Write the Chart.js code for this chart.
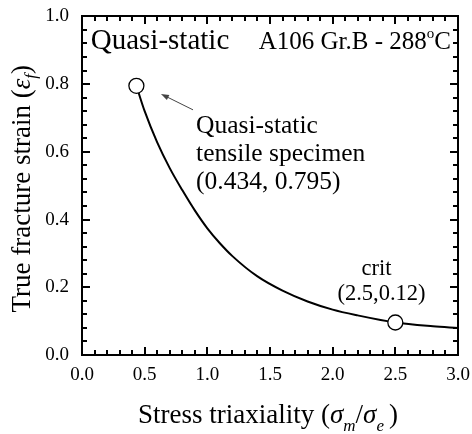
<!DOCTYPE html>
<html>
<head>
<meta charset="utf-8">
<script src="https://cdn.jsdelivr.net/npm/chart.js@4.4.1/dist/chart.umd.min.js"></script>
<style>
  html, body { margin: 0; padding: 0; background: #ffffff; }
  #wrap { width: 472px; height: 434px; }
  .fontprobe { position: absolute; left: -1000px; top: 0; font-family: "Liberation Serif"; }
</style>
</head>
<body>
<span class="fontprobe">Quasi-static 0.5 <i>&#963;&#949;</i></span>
<div id="wrap"><canvas id="chart" width="472" height="434"></canvas></div>
<script>
'use strict';
// curve
var triaxiality = [0.434, 0.5, 0.6, 0.7, 0.8, 0.9, 1.0, 1.1, 1.2, 1.4, 1.6, 1.8, 2.0, 2.2, 2.5, 2.8, 3.0];
var fractureStrain = [0.795, 0.72, 0.628, 0.552, 0.487, 0.427, 0.374, 0.33, 0.292, 0.232, 0.19, 0.158, 0.134, 0.117, 0.096, 0.085, 0.080];
// marked points (open circles)
var markX = [0.434, 2.5];
var markY = [0.795, 0.096];
// tick labels
var xTicks = [0.0, 0.5, 1.0, 1.5, 2.0, 2.5, 3.0];
var yTicks = [0.0, 0.2, 0.4, 0.6, 0.8, 1.0];

var SERIF = '"Liberation Serif", "Times New Roman", Times, "DejaVu Serif", serif';
var canvas = document.getElementById('chart');
var ctx = canvas.getContext('2d');

function toPoints(xs, ys) {
  var pts = [];
  for (var i = 0; i < xs.length; i++) {
    pts.push({x: xs[i], y: ys[i]});
  }
  return pts;
}

// draw a row of text pieces (for sub/superscripts)
function drawRuns(c, runs, x, y, align) {
  var total = 0;
  for (var i = 0; i < runs.length; i++) {
    c.font = runs[i].font;
    total += c.measureText(runs[i].t).width + (runs[i].gap || 0);
  }
  var cx = x;
  if (align === 'center') cx = x - total / 2;
  if (align === 'right') cx = x - total;
  c.textBaseline = 'alphabetic';
  c.textAlign = 'left';
  for (var j = 0; j < runs.length; j++) {
    c.font = runs[j].font;
    c.fillText(runs[j].t, cx, y + (runs[j].dy || 0));
    cx += c.measureText(runs[j].t).width + (runs[j].gap || 0);
  }
}

var framePlugin = {
  id: 'frame',
  afterDraw: function(chart) {
    var c = chart.ctx;
    var a = chart.chartArea;
    var xs = chart.scales.x;
    var ys = chart.scales.y;
    var L = Math.round(a.left), R = Math.round(a.right);
    var T = Math.round(a.top), B = Math.round(a.bottom);
    c.save();
    c.fillStyle = '#000';

    // inward ticks on all four sides, minor x every 0.1, minor y every 0.04
    var v, px, len;
    for (var i = 0; i <= 30; i++) {
      v = i / 10;
      px = Math.round(xs.getPixelForValue(v));
      len = (i % 5 === 0) ? 8 : 5;
      c.fillRect(px - 1, B - len, 2, len);
      c.fillRect(px - 1, T, 2, len);
    }
    for (var k = 0; k <= 25; k++) {
      v = k * 0.04;
      px = Math.round(ys.getPixelForValue(v));
      len = (k % 5 === 0) ? 8 : 5;
      c.fillRect(L, px - 1, len, 2);
      c.fillRect(R - len, px - 1, len, 2);
    }

    // frame
    c.strokeStyle = '#000';
    c.lineWidth = 2;
    c.strokeRect(L, T, R - L, B - T);

    // arrow pointing at the quasi-static specimen
    var tipX = xs.getPixelForValue(0.63), tipY = ys.getPixelForValue(0.771);
    var tailX = xs.getPixelForValue(0.886), tailY = ys.getPixelForValue(0.724);
    var ang = Math.atan2(tipY - tailY, tipX - tailX);
    c.strokeStyle = '#444';
    c.fillStyle = '#444';
    c.lineWidth = 1;
    c.beginPath();
    c.moveTo(tailX, tailY);
    c.lineTo(tipX - 5 * Math.cos(ang), tipY - 5 * Math.sin(ang));
    c.stroke();
    c.beginPath();
    c.moveTo(tipX, tipY);
    c.lineTo(tipX - 8 * Math.cos(ang) + 2.8 * Math.sin(ang), tipY - 8 * Math.sin(ang) - 2.8 * Math.cos(ang));
    c.lineTo(tipX - 8 * Math.cos(ang) - 2.8 * Math.sin(ang), tipY - 8 * Math.sin(ang) + 2.8 * Math.cos(ang));
    c.closePath();
    c.fill();

    c.fillStyle = '#000';
    // in-plot texts
    drawRuns(c, [{t: 'Quasi-static', font: '29px ' + SERIF}], xs.getPixelForValue(0.07), ys.getPixelForValue(0.903), 'left');
    drawRuns(c, [
      {t: 'A106 Gr.B - 288', font: '25px ' + SERIF},
      {t: 'o', font: '15px ' + SERIF, dy: -11},
      {t: 'C', font: '25px ' + SERIF}
    ], xs.getPixelForValue(1.41), ys.getPixelForValue(0.903), 'left');

    var note = '25.5px ' + SERIF;
    var nx = xs.getPixelForValue(0.91);
    drawRuns(c, [{t: 'Quasi-static', font: note}], nx, ys.getPixelForValue(0.655), 'left');
    drawRuns(c, [{t: 'tensile specimen', font: note}], nx, ys.getPixelForValue(0.572), 'left');
    drawRuns(c, [{t: '(0.434, 0.795)', font: note}], nx, ys.getPixelForValue(0.49), 'left');

    drawRuns(c, [{t: 'crit', font: '22.5px ' + SERIF}], xs.getPixelForValue(2.35), ys.getPixelForValue(0.235), 'center');
    drawRuns(c, [{t: '(2.5,0.12)', font: '22.5px ' + SERIF}], xs.getPixelForValue(2.39), ys.getPixelForValue(0.161), 'center');

    // axis titles
    var tf = '27px ' + SERIF;
    var ti = 'italic 27px ' + SERIF;
    var si = 'italic 17px ' + SERIF;
    drawRuns(c, [
      {t: 'Stress triaxiality (', font: tf},
      {t: '\u03C3', font: ti},
      {t: 'm', font: si, dy: 8},
      {t: '/', font: tf},
      {t: '\u03C3', font: ti},
      {t: 'e', font: si, dy: 8, gap: 5},
      {t: ')', font: tf}
    ], (a.left + a.right) / 2 - 2, 423, 'center');

    c.translate(30, (a.top + a.bottom) / 2 + 3);
    c.rotate(-Math.PI / 2);
    drawRuns(c, [
      {t: 'True fracture strain (', font: tf},
      {t: '\u03B5', font: ti},
      {t: 'f', font: si, dy: 6},
      {t: ')', font: tf}
    ], 0, 0, 'center');
    c.restore();
  }
};

function makeChart() {
  return new Chart(ctx, {
    type: 'scatter',
    data: {
      datasets: [
        {
          label: 'marks',
          data: toPoints(markX, markY),
          pointStyle: 'circle',
          pointRadius: 7.5,
          pointBackgroundColor: '#ffffff',
          pointBorderColor: '#000000',
          pointBorderWidth: 1.3,
          showLine: false,
          order: 0
        },
        {
          label: 'fracture locus',
          data: toPoints(triaxiality, fractureStrain),
          showLine: true,
          borderColor: '#000000',
          borderWidth: 2,
          pointRadius: 0,
          cubicInterpolationMode: 'monotone',
          fill: false,
          order: 1
        }
      ]
    },
    options: {
      responsive: false,
      animation: false,
      events: [],
      layout: { padding: { top: 14, right: 14, left: 0, bottom: 0 } },
      plugins: {
        legend: { display: false },
        tooltip: { enabled: false },
        title: { display: false }
      },
      scales: {
        x: {
          type: 'linear',
          min: 0,
          max: 3,
          afterBuildTicks: function(scale) {
            scale.ticks = xTicks.map(function(v) { return {value: v}; });
          },
          afterFit: function(scale) { scale.height = 79; },
          grid: { display: false },
          border: { display: false },
          ticks: {
            color: '#000',
            font: { family: SERIF, size: 19 },
            padding: 1,
            maxRotation: 0,
            callback: function(v) { return v.toFixed(1); }
          }
        },
        y: {
          type: 'linear',
          min: 0,
          max: 1,
          afterBuildTicks: function(scale) {
            scale.ticks = yTicks.map(function(v) { return {value: v}; });
          },
          afterFit: function(scale) { scale.width = 82; },
          grid: { display: false },
          border: { display: false },
          ticks: {
            color: '#000',
            font: { family: SERIF, size: 19 },
            padding: 5,
            callback: function(v) { return v.toFixed(1); }
          }
        }
      }
    },
    plugins: [framePlugin]
  });
}

var chart;
if (document.fonts && document.fonts.load) {
  Promise.all([
    document.fonts.load('20px "Liberation Serif"'),
    document.fonts.load('italic 20px "Liberation Serif"')
  ]).then(function() { chart = makeChart(); }, function() { chart = makeChart(); });
} else {
  chart = makeChart();
}
</script>
</body>
</html>
